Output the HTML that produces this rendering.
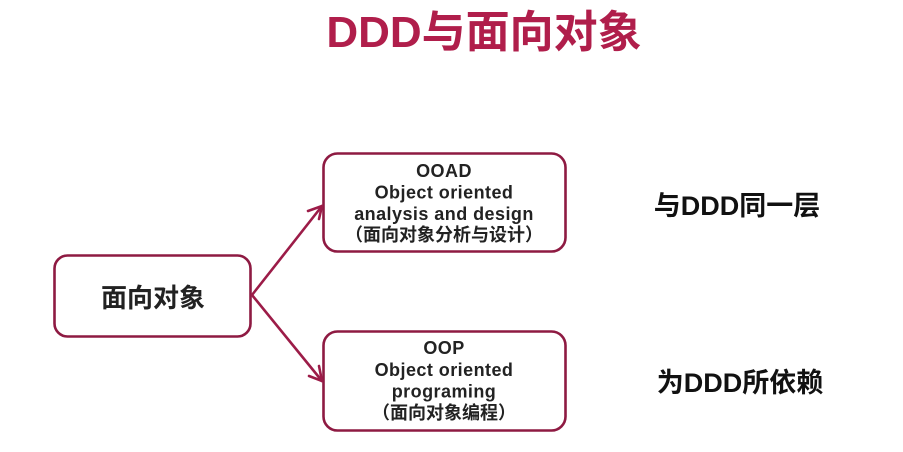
<!DOCTYPE html>
<html>
<head>
<meta charset="utf-8">
<style>
  html,body{margin:0;padding:0;background:#fff;}
  body{width:903px;height:452px;overflow:hidden;}
  svg{display:block;}
  .t{font-family:"Liberation Sans","Noto Sans CJK SC",sans-serif;font-weight:bold;}
  .ls{letter-spacing:0.45px;}
</style>
</head>
<body>
<svg width="903" height="452" viewBox="0 0 903 452" xmlns="http://www.w3.org/2000/svg">
  <rect x="0" y="0" width="903" height="452" fill="#ffffff"/>
  <!-- Title -->
  <text class="t" x="484" y="47" font-size="44" fill="#b01e4b" text-anchor="middle">DDD与面向对象</text>

  <!-- Boxes -->
  <rect x="54.5" y="255.5" width="196" height="81" rx="13" ry="13" fill="#fff" stroke="#8e1a42" stroke-width="2.6"/>
  <rect x="323.5" y="153.5" width="242" height="98" rx="14" ry="14" fill="#fff" stroke="#8e1a42" stroke-width="2.6"/>
  <rect x="323.5" y="331.5" width="242" height="99" rx="14" ry="14" fill="#fff" stroke="#8e1a42" stroke-width="2.6"/>

  <!-- Connectors -->
  <g stroke="#9c1c48" stroke-width="2.6" fill="none" stroke-linecap="round" stroke-linejoin="round">
    <line x1="252" y1="295" x2="322" y2="206"/>
    <polyline points="308,211 322,206 319,219"/>
    <line x1="252" y1="295" x2="322" y2="381"/>
    <polyline points="319,366 322,381 309,376"/>
  </g>

  <!-- Left box text -->
  <text class="t" x="153" y="307" font-size="26" fill="#222" text-anchor="middle">面向对象</text>

  <!-- OOAD box text -->
  <g class="t" font-size="18" fill="#222" text-anchor="middle">
    <text class="ls" x="444" y="177">OOAD</text>
    <text class="ls" x="444" y="198.5">Object oriented</text>
    <text class="ls" x="444" y="220">analysis and design</text>
    <text x="444" y="241">（面向对象分析与设计）</text>
  </g>

  <!-- OOP box text -->
  <g class="t" font-size="18" fill="#222" text-anchor="middle">
    <text class="ls" x="444" y="354">OOP</text>
    <text class="ls" x="444" y="376">Object oriented</text>
    <text class="ls" x="444" y="397.5">programing</text>
    <text x="444" y="419">（面向对象编程）</text>
  </g>

  <!-- Right labels -->
  <text class="t" x="737" y="215" font-size="27" fill="#111" text-anchor="middle">与DDD同一层</text>
  <text class="t" x="740" y="392" font-size="27" fill="#111" text-anchor="middle">为DDD所依赖</text>
</svg>
</body>
</html>
